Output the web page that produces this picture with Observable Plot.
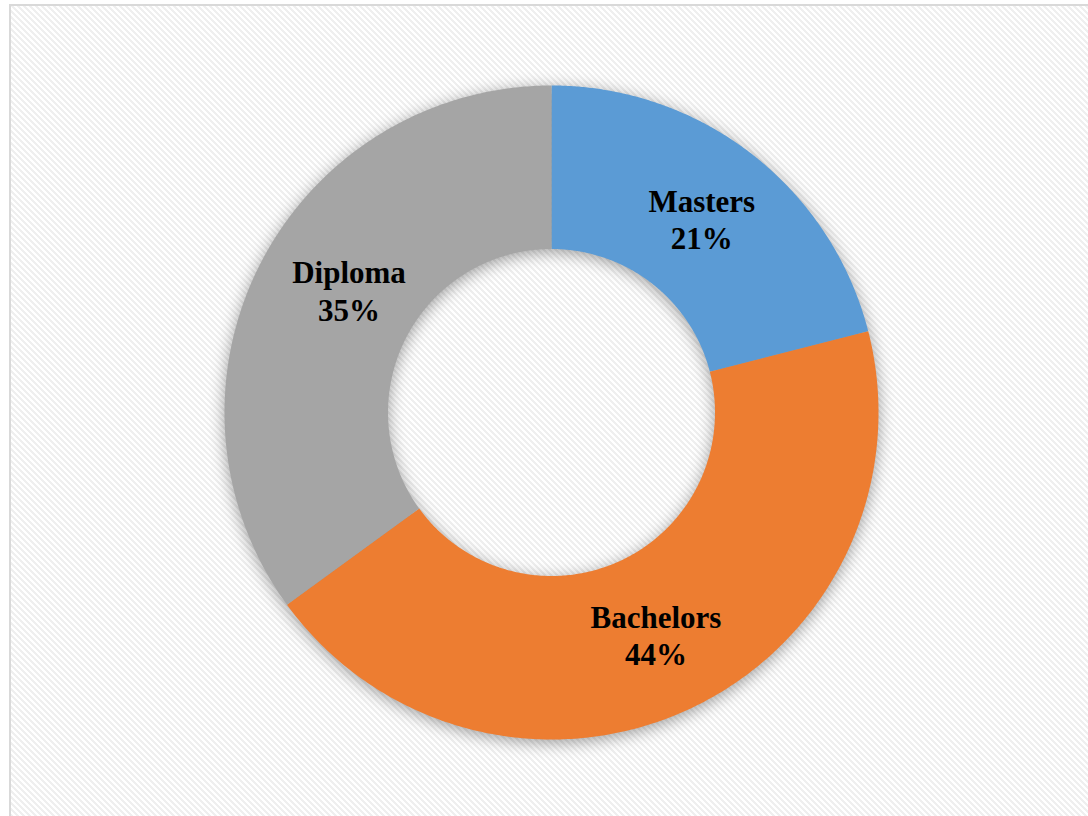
<!DOCTYPE html>
<html>
<head>
<meta charset="utf-8">
<script src="https://cdn.jsdelivr.net/npm/d3@7"></script>
<script src="https://cdn.jsdelivr.net/npm/@observablehq/plot@0.6"></script>
<style>
  html, body { margin: 0; padding: 0; background: #ffffff; overflow: hidden; }
  #wrap { position: relative; width: 1088px; height: 816px; }
  #bg {
    position: absolute; left: 9px; top: 4px; width: 1100px; height: 830px;
    border: 2px solid #d9d9d9; box-sizing: border-box; background-color: #ffffff;
  }
  #chart { position: absolute; left: 0; top: 0; }
</style>
</head>
<body>
<div id="wrap"><div id="bg"></div><div id="chart"></div></div>
<script>
const categories = ["Masters", "Bachelors", "Diploma"];
const values = [21, 44, 35];
const colors = ["#5B9BD5", "#ED7D31", "#A5A5A5"];
// small manual nudges of the data labels (pixels)
const labelNudgeX = [0, 0, 16];
const labelNudgeY = [0, 0, -11];

// background hatch tile (diagonal "\" stripes)
(function () {
  let rects = "";
  for (let r = 0; r < 6; r++) for (let k = 0; k < 3; k++) {
    rects += `<rect x="${(r + k) % 6}" y="${r}" width="1" height="1"/>`;
  }
  const svg = `<svg xmlns="http://www.w3.org/2000/svg" width="6" height="6" shape-rendering="crispEdges"><g fill="#efefef">${rects}</g></svg>`;
  document.getElementById("bg").style.backgroundImage = `url("data:image/svg+xml;utf8,${encodeURIComponent(svg)}")`;
})();

const innerRatio = 0.5;
const pie = d3.pie().sort(null).value(d => d.value);
const arcs = pie(categories.map((c, i) => ({name: c, value: values[i]})));

const ringPts = [];
arcs.forEach(a => {
  const n = 240;
  for (let k = 0; k <= n; k++) {
    const t = a.startAngle + (a.endAngle - a.startAngle) * k / n;
    ringPts.push({name: a.data.name, x: Math.sin(t), y: Math.cos(t)});
  }
  for (let k = n; k >= 0; k--) {
    const t = a.startAngle + (a.endAngle - a.startAngle) * k / n;
    ringPts.push({name: a.data.name, x: innerRatio * Math.sin(t), y: innerRatio * Math.cos(t)});
  }
});

const midR = (1 + innerRatio) / 2;
const labels = arcs.map((a, i) => {
  const m = (a.startAngle + a.endAngle) / 2;
  return {name: a.data.name, text: a.data.name + "\n" + a.data.value + "%", x: midR * Math.sin(m), y: midR * Math.cos(m), i};
});

const cx = 551, cy = 412, R = 327;
const textMarks = labels.map(l => Plot.text([l], {
  x: "x", y: "y", text: "text", dx: labelNudgeX[l.i], dy: labelNudgeY[l.i],
  fontSize: 31, fontWeight: "bold", fontFamily: "Liberation Serif, Times New Roman, serif",
  fill: "#000000", lineHeight: 1.2, lineAnchor: "middle", textAnchor: "middle"
}));

const chart = Plot.plot({
  width: 1088,
  height: 816,
  margin: 0,
  style: {background: "transparent"},
  x: {domain: [-1, 1], range: [cx - R, cx + R], axis: null},
  y: {domain: [1, -1], range: [cy - R, cy + R], axis: null},
  color: {domain: categories, range: colors},
  marks: [
    Plot.line(ringPts, {x: "x", y: "y", z: "name", fill: "name", stroke: "none", curve: "linear-closed"}),
    ...textMarks
  ]
});
document.getElementById("chart").appendChild(chart);
const g = chart.querySelector('g[aria-label="line"]');
if (g) g.style.filter = "drop-shadow(0px 3px 8px rgba(0,0,0,0.38))";
</script>
</body>
</html>
